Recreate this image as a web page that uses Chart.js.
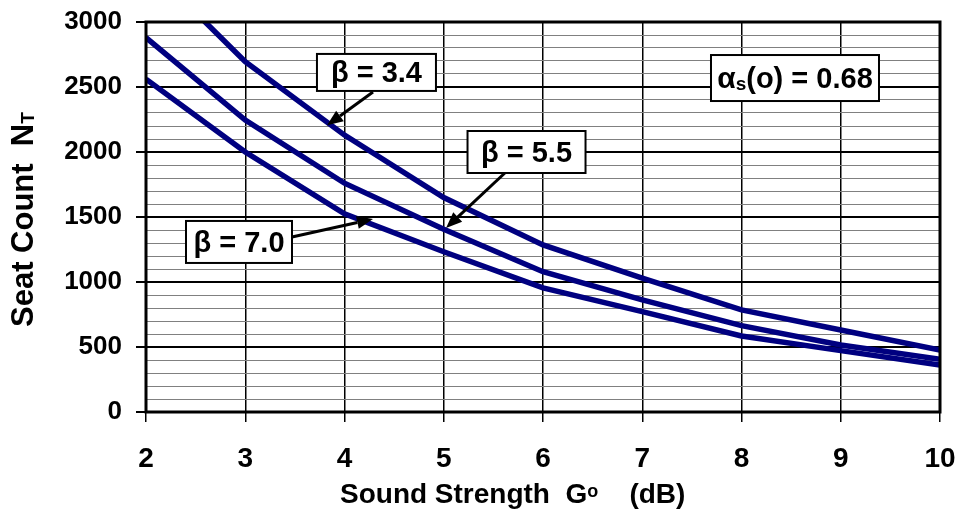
<!DOCTYPE html>
<html><head><meta charset="utf-8">
<script src="https://cdn.jsdelivr.net/npm/chart.js@4/dist/chart.umd.min.js"></script>
<style>html,body{margin:0;padding:0;background:#fff}#wrap{width:957px;height:510px;position:relative}</style>
</head><body><div id="wrap"><canvas id="c"></canvas></div>
<script>
// ---- data ----
const xValues      = [2, 3, 4, 5, 6, 7, 8, 9, 10];
const seriesBeta34 = [3450, 2695, 2130, 1650, 1285, 1030, 785, 631, 477];
const seriesBeta55 = [2880, 2246, 1760, 1405, 1079, 862, 664, 515, 405];
const seriesBeta70 = [2560, 2000, 1525, 1233, 955, 772, 585, 472, 362];
const seriesNames  = ['β = 3.4', 'β = 5.5', 'β = 7.0'];
const xTitle = ['Sound Strength  G', 'o', '    (dB)'];
const yTitle = ['Seat Count  N', 'T'];
const alphaLabel = ['α', 's', '(o) = 0.68'];

const FONT = '"Liberation Sans", Arial, Helvetica, sans-serif';
const toPts = arr => xValues.map((x, i) => ({x: x, y: arr[i]}));

// annotation boxes (centre in data units) and arrows (data units)
const notes = [
  {parts: [[seriesNames[0], 29]], cx: 4.322, cy: 2612, w: 119, h: 37, from: [4.287, 2462], to: [3.824, 2205]},
  {parts: [[seriesNames[1], 29]], cx: 5.834, cy: 2000, w: 118, h: 42, from: [5.637, 1854], to: [5.023, 1415]},
  {parts: [[seriesNames[2], 29]], cx: 2.937, cy: 1308, w: 106, h: 42, from: [3.471, 1346], to: [4.287, 1485]},
  {parts: [[alphaLabel[0], 30], [alphaLabel[1], 19, 2], [alphaLabel[2], 29]], cx: 8.539, cy: 2569, w: 168, h: 46}
];

function drawParts(ctx, parts, x, y) {
  let cx = x;
  parts.forEach(p => {
    ctx.font = 'bold ' + p[1] + 'px ' + FONT;
    ctx.fillText(p[0], cx, y + (p[2] || 0));
    cx += ctx.measureText(p[0]).width;
  });
}
function partsWidth(ctx, parts) {
  let w = 0;
  parts.forEach(p => { ctx.font = 'bold ' + p[1] + 'px ' + FONT; w += ctx.measureText(p[0]).width; });
  return w;
}

const decor = {
  id: 'decor',
  afterDatasetsDraw(chart) {
    const ctx = chart.ctx, xs = chart.scales.x, ys = chart.scales.y, a = chart.chartArea;
    ctx.save();
    notes.forEach(n => {
      if (!n.from) return;
      const x1 = xs.getPixelForValue(n.from[0]), y1 = ys.getPixelForValue(n.from[1]);
      const x2 = xs.getPixelForValue(n.to[0]), y2 = ys.getPixelForValue(n.to[1]);
      const ang = Math.atan2(y2 - y1, x2 - x1), L = 16, W = 6.5;
      const bx = x2 - L * Math.cos(ang), by = y2 - L * Math.sin(ang);
      ctx.strokeStyle = '#000'; ctx.lineWidth = 3;
      ctx.beginPath(); ctx.moveTo(x1, y1); ctx.lineTo(bx, by); ctx.stroke();
      ctx.fillStyle = '#000';
      ctx.beginPath();
      ctx.moveTo(x2, y2);
      ctx.lineTo(bx + W * Math.sin(ang), by - W * Math.cos(ang));
      ctx.lineTo(bx - W * Math.sin(ang), by + W * Math.cos(ang));
      ctx.closePath(); ctx.fill();
    });
    notes.forEach(n => {
      const cx = xs.getPixelForValue(n.cx), cy = ys.getPixelForValue(n.cy);
      ctx.fillStyle = '#fff'; ctx.strokeStyle = '#000'; ctx.lineWidth = 2;
      ctx.fillRect(cx - n.w / 2, cy - n.h / 2, n.w, n.h);
      ctx.strokeRect(cx - n.w / 2, cy - n.h / 2, n.w, n.h);
      ctx.fillStyle = '#000'; ctx.textBaseline = 'alphabetic'; ctx.textAlign = 'left';
      const tw = partsWidth(ctx, n.parts);
      drawParts(ctx, n.parts, cx - tw / 2, cy + 10);
    });
    ctx.strokeStyle = '#000'; ctx.lineWidth = 3;
    ctx.strokeRect(a.left, a.top, a.right - a.left, a.bottom - a.top);
    ctx.restore();
  },
  afterDraw(chart) {
    const ctx = chart.ctx;
    ctx.save();
    ctx.fillStyle = '#000'; ctx.textAlign = 'left'; ctx.textBaseline = 'alphabetic';
    drawParts(ctx, [[xTitle[0], 28], [xTitle[1], 18, -6], [xTitle[2], 28]], 340, 503);
    ctx.translate(33, 327);
    ctx.rotate(-Math.PI / 2);
    drawParts(ctx, [[yTitle[0], 31], [yTitle[1], 19, 1]], 0, 0);
    ctx.restore();
  }
};

new Chart(document.getElementById('c'), {
  type: 'line',
  data: {
    datasets: [
      {label: seriesNames[0], data: toPts(seriesBeta34)},
      {label: seriesNames[1], data: toPts(seriesBeta55)},
      {label: seriesNames[2], data: toPts(seriesBeta70)}
    ].map(d => Object.assign(d, {borderColor: '#000080', borderWidth: 5.5, pointRadius: 0, tension: 0, fill: false, clip: 0}))
  },
  options: {
    responsive: true, maintainAspectRatio: false, animation: false,
    layout: {padding: {top: 22, right: 17, left: 0, bottom: 0}},
    plugins: {legend: {display: false}, tooltip: {enabled: false}},
    scales: {
      x: {
        type: 'linear', min: 2, max: 10,
        border: {display: false},
        grid: {color: '#000', lineWidth: 1.5, tickLength: 10, tickColor: '#000'},
        ticks: {stepSize: 1, padding: 20, color: '#000', font: {family: FONT, size: 28, weight: 'bold'}},
        afterFit: s => { s.height = 98; s.paddingLeft = 0; s.paddingRight = 0; }
      },
      y: {
        type: 'linear', min: 0, max: 3000,
        border: {display: false},
        grid: {
          color: c => (c.tick && c.tick.value % 500 === 0) ? '#000' : '#808080',
          lineWidth: c => (c.tick && c.tick.value % 500 === 0) ? 2 : 1,
          tickColor: c => (c.tick && c.tick.value % 500 === 0) ? '#000' : 'rgba(0,0,0,0)',
          tickLength: 10
        },
        ticks: {stepSize: 100, autoSkip: false, maxTicksLimit: 100, padding: 14, color: '#000',
          font: {family: FONT, size: 26, weight: 'bold'},
          callback: v => (v % 500 === 0 ? String(v) : '')},
        afterFit: s => { s.width = 146; s.paddingTop = 0; s.paddingBottom = 0; }
      }
    }
  },
  plugins: [decor]
});
</script></body></html>
